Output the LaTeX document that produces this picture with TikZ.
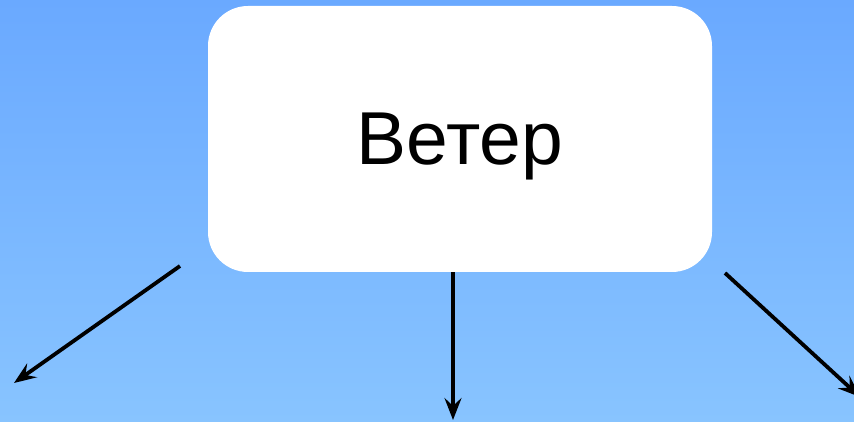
\documentclass[tikz,border=0pt]{standalone}
\usepackage{fontspec}
\setmainfont{Liberation Sans}
\usetikzlibrary{arrows.meta}
\definecolor{SKYTOP}{HTML}{6AA9FF}
\definecolor{SKYBOTTOM}{HTML}{88C4FF}
\definecolor{BLACK}{HTML}{000000}
\tikzset{
    windbox/.style={fill=white, rounded corners=40pt, minimum width=504pt, minimum height=266pt, text depth=0pt, font=\fontsize{75}{80}\selectfont},
    windarrow/.style={BLACK, line width=3.8pt, -{Stealth[length=22pt, width=17pt, inset=8pt]}}
}
\begin{document}
\begin{tikzpicture}[x=1pt, y=1pt]
    \useasboundingbox (0,0) rectangle (854,422);
    \shade[top color=SKYTOP, bottom color=SKYBOTTOM] (0,0) rectangle (854,422);
    \node[windbox] (wind) at (460,283) {Ветер};
    % arrow ends
    \coordinate (leftstart) at (180,156);
    \coordinate (leftend) at (14,39);
    \coordinate (midstart) at (wind.south -| 453,0);
    \coordinate (midend) at (453,2);
    \coordinate (rightstart) at (725,149);
    \coordinate (rightend) at (860,25);
    \draw[windarrow] (leftstart) -- (leftend);
    \draw[windarrow] (midstart) -- (midend);
    \draw[windarrow] (rightstart) -- (rightend);
\end{tikzpicture}
\end{document}
